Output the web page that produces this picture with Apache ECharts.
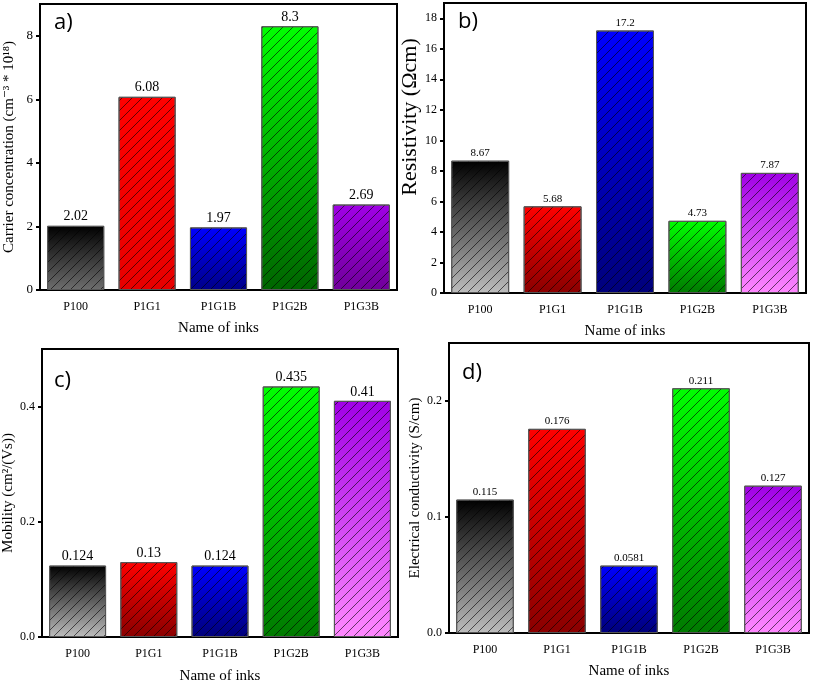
<!DOCTYPE html>
<html><head><meta charset="utf-8">
<script src="https://cdn.jsdelivr.net/npm/echarts@6/dist/echarts.min.js"></script>
<style>html,body{margin:0;padding:0;background:#fff}#c{width:813px;height:683px}</style>
</head><body><div id="c"></div>
<script>
const categories = ['P100', 'P1G1', 'P1G1B', 'P1G2B', 'P1G3B'];
const carrierConc = [2.02, 6.08, 1.97, 8.3, 2.69];
const resistivity = [8.67, 5.68, 17.2, 4.73, 7.87];
const mobility = [0.124, 0.13, 0.124, 0.435, 0.41];
const conductivity = [0.115, 0.176, 0.0581, 0.211, 0.127];
const yTicksA = [0, 2, 4, 6, 8];
const yTicksB = [0, 2, 4, 6, 8, 10, 12, 14, 16, 18];
const yTicksC = [0, 0.2, 0.4];
const yTicksD = [0, 0.1, 0.2];
const yNames = ['Carrier concentration (cm\u207B\u00B3 * 10\u00B9\u2078)', 'Resistivity (\u03A9cm)', 'Mobility (cm\u00B2/(Vs))', 'Electrical conductivity (S/cm)'];
const xName = 'Name of inks';
const panelTags = ['a)', 'b)', 'c)', 'd)'];

const topColors = ['#000000', '#ff0000', '#0000ff', '#00ff00', '#a000e6'];
const bottomA = ['#6e6e6e', '#e80000', '#000088', '#006400', '#70009a'];
const bottomB = ['#bdbdbd', '#8a0000', '#00007a', '#007a00', '#ff88ff'];

const serif = '"Liberation Serif", "DejaVu Serif", serif';
const panels = [
  {data: carrierConc, ticks: yTicksA, max: 9, dec: 0, grid: {left: 40, top: 4, width: 357, height: 286}, bottoms: bottomA, lblSize: 14, tickSize: 13, nameGap: 23, nameSize: 15, namePad: [0, 0, 0, 0], xGap: 31, tag: [54, 12]},
  {data: resistivity, ticks: yTicksB, max: 19, dec: 0, grid: {left: 444, top: 3, width: 362, height: 290}, bottoms: bottomB, lblSize: 11, tickSize: 12, nameGap: 21, nameSize: 22, namePad: [0, 0, 0, 62], xGap: 31, tag: [458, 11]},
  {data: mobility, ticks: yTicksC, max: 0.5, dec: 1, grid: {left: 42, top: 349, width: 356, height: 288}, bottoms: bottomB, lblSize: 14, tickSize: 12, nameGap: 26, nameSize: 15, namePad: [0, 0, 0, 0], xGap: 32, tag: [54, 370]},
  {data: conductivity, ticks: yTicksD, max: 0.25, dec: 1, grid: {left: 449, top: 343, width: 360, height: 290}, bottoms: bottomB, lblSize: 11, tickSize: 12, nameGap: 26, nameSize: 15, namePad: [0, 0, 0, 0], xGap: 31, tag: [462, 362]}
];

// hatch tile: "/" diagonal lines
const tile = document.createElement('canvas');
tile.width = 10; tile.height = 10;
(function () {
  const g = tile.getContext('2d');
  g.strokeStyle = 'rgba(0,0,0,0.6)';
  g.lineWidth = 1;
  g.beginPath();
  g.moveTo(0, 10); g.lineTo(10, 0);
  g.moveTo(-5, 5); g.lineTo(5, -5);
  g.moveTo(5, 15); g.lineTo(15, 5);
  g.stroke();
})();
const hatchFill = {image: tile, repeat: 'repeat'};

const series = [];
panels.forEach((p, i) => {
  series.push({
    type: 'bar', xAxisIndex: i, yAxisIndex: i, barWidth: '80%', barGap: '-100%',
    label: {show: true, position: 'top', distance: 2, fontFamily: serif, fontSize: p.lblSize, color: '#000'},
    data: p.data.map((v, j) => ({
      value: v,
      itemStyle: {
        color: new echarts.graphic.LinearGradient(0, 0, 0, 1, [
          {offset: 0, color: topColors[j]}, {offset: 1, color: p.bottoms[j]}
        ]),
        borderColor: '#555', borderWidth: 1
      }
    }))
  });
  series.push({
    type: 'bar', xAxisIndex: i, yAxisIndex: i, barWidth: '80%', barGap: '-100%', silent: true,
    itemStyle: {color: hatchFill, borderColor: '#555', borderWidth: 1},
    data: p.data
  });
});

const option = {
  animation: false,
  backgroundColor: '#fff',
  grid: panels.map(p => Object.assign({show: true, borderColor: '#000', borderWidth: 2, containLabel: false, outerBoundsMode: 'none'}, p.grid)),
  xAxis: panels.map((p, i) => ({
    type: 'category', gridIndex: i, data: categories,
    name: xName, nameLocation: 'middle', nameGap: p.xGap,
    nameTextStyle: {fontFamily: serif, fontSize: 15, color: '#000'},
    axisLine: {lineStyle: {color: '#000', width: 2}},
    axisTick: {alignWithLabel: true, length: 4, lineStyle: {color: '#000', width: 2}},
    axisLabel: {fontFamily: serif, fontSize: 12, color: '#000', margin: 11}
  })),
  yAxis: panels.map((p, i) => ({
    type: 'value', gridIndex: i, min: 0, max: p.max,
    name: yNames[i], nameLocation: 'middle', nameGap: p.nameGap,
    nameTextStyle: {fontFamily: serif, fontSize: p.nameSize, color: '#000', padding: p.namePad},
    splitLine: {show: false},
    axisLine: {show: true, lineStyle: {color: '#000', width: 2}},
    axisTick: {show: true, length: 4, customValues: p.ticks, lineStyle: {color: '#000', width: 2}},
    axisLabel: {fontFamily: serif, fontSize: p.tickSize, color: '#000', margin: 7, customValues: p.ticks,
      formatter: v => v.toFixed(p.dec)}
  })),
  series: series,
  graphic: panels.map((p, i) => ({
    type: 'text', left: p.tag[0], top: p.tag[1],
    style: {text: panelTags[i], font: '22px "Open Sans", sans-serif', fill: '#000'}
  }))
};
const chart = echarts.init(document.getElementById('c'), null, {renderer: 'canvas'});
chart.setOption(option);
</script></body></html>
